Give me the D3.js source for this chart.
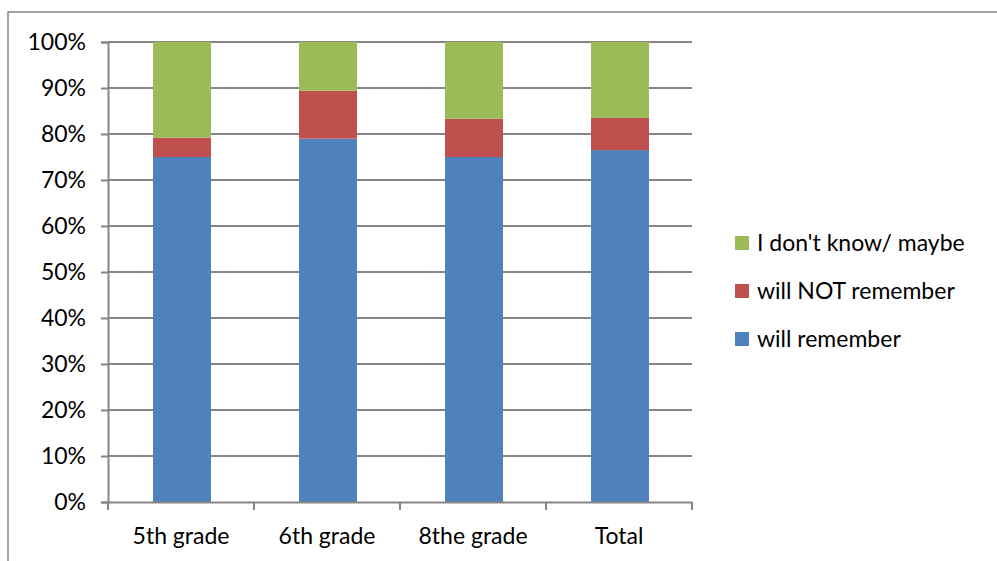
<!DOCTYPE html>
<html>
<head>
<meta charset="utf-8">
<script src="https://cdn.jsdelivr.net/npm/d3@7"></script>
<style>
  html, body { margin: 0; padding: 0; background: #fff; }
  svg { display: block; }
  text { font-family: Lato, "Open Sans", sans-serif; fill: #000; }
</style>
</head>
<body>
<svg id="chart" width="997" height="561"></svg>
<script>
// Survey answers by grade (share of respondents, %)
const categories = ["5th grade", "6th grade", "8the grade", "Total"];
const willRemember = [75.0, 79.0, 75.0, 76.5];
const willNotRemember = [4.2, 10.4, 8.3, 7.0];
const dontKnow = [20.8, 10.6, 16.7, 16.5];
const yTicks = [0, 10, 20, 30, 40, 50, 60, 70, 80, 90, 100];

const seriesNames = ["will remember", "will NOT remember", "I don't know/ maybe"];
const seriesColors = ["#4F81BD", "#C0504D", "#9BBB59"];

const rows = categories.map((c, i) => ({
  cat: c,
  "will remember": willRemember[i],
  "will NOT remember": willNotRemember[i],
  "I don't know/ maybe": dontKnow[i]
}));

const svg = d3.select("#chart");
const gridColor = "#868686";
const fontSize = 23;

// outer chart frame (runs past the right and bottom edges)
svg.append("rect")
  .attr("x", 8).attr("y", 12)
  .attr("width", 1100).attr("height", 700)
  .attr("fill", "none").attr("stroke", gridColor).attr("stroke-width", 1.5);

const plot = { left: 108, right: 692, top: 42, bottom: 502 };

const xOuter = d3.scaleBand().domain(categories).range([plot.left, plot.right]);
const bandStep = xOuter.step();
const y = d3.scaleLinear().domain([0, 100]).range([plot.bottom, plot.top]);

// horizontal gridlines
svg.append("g").selectAll("line").data(yTicks.slice(1)).join("line")
  .attr("x1", plot.left).attr("x2", plot.right)
  .attr("y1", d => y(d)).attr("y2", d => y(d))
  .attr("stroke", gridColor).attr("stroke-width", 2);

// y axis
const yAxis = svg.append("g").attr("transform", `translate(${plot.left},0)`)
  .call(d3.axisLeft(y).tickValues(yTicks).tickFormat(d => d + "%").tickSize(7).tickPadding(15));
yAxis.select(".domain").attr("stroke", gridColor).attr("stroke-width", 2);
yAxis.selectAll(".tick line").attr("stroke", gridColor).attr("stroke-width", 2);
yAxis.selectAll(".tick text").attr("font-size", fontSize).attr("font-family", "Lato, sans-serif").attr("fill", "#000");

// stacked bars
const stack = d3.stack().keys(seriesNames);
const layers = stack(rows);
const barW = 58;
svg.append("g").selectAll("g").data(layers).join("g")
  .attr("fill", (d, i) => seriesColors[i])
  .selectAll("rect").data(d => d).join("rect")
  .attr("x", d => xOuter(d.data.cat) + xOuter.bandwidth() / 2 - barW / 2 + 1)
  .attr("width", barW)
  .attr("y", d => y(d[1]))
  .attr("height", d => y(d[0]) - y(d[1]));

// x axis
const xAxis = svg.append("g").attr("transform", `translate(0,${plot.bottom})`)
  .call(d3.axisBottom(xOuter).tickSize(0).tickPadding(26));
xAxis.select(".domain").attr("stroke", gridColor).attr("stroke-width", 2);
xAxis.selectAll(".tick text").attr("font-size", fontSize).attr("font-family", "Lato, sans-serif").attr("fill", "#000");
// category separator ticks
const sepPositions = d3.range(categories.length + 1).map(i => plot.left + i * bandStep);
svg.append("g").selectAll("line").data(sepPositions).join("line")
  .attr("x1", d => d).attr("x2", d => d)
  .attr("y1", plot.bottom).attr("y2", plot.bottom + 8)
  .attr("stroke", gridColor).attr("stroke-width", 2);

// legend (top entry is the top of the stack)
const legendItems = seriesNames.map((n, i) => ({ name: n, color: seriesColors[i] })).reverse();
const legend = svg.append("g").attr("transform", "translate(735,243)");
const li = legend.selectAll("g").data(legendItems).join("g")
  .attr("transform", (d, i) => `translate(0,${i * 48})`);
li.append("rect").attr("x", 0).attr("y", -7).attr("width", 14).attr("height", 14)
  .attr("fill", d => d.color);
li.append("text").attr("x", 22).attr("y", 0).attr("dy", "0.35em")
  .attr("font-size", fontSize).text(d => d.name);
</script>
</body>
</html>
